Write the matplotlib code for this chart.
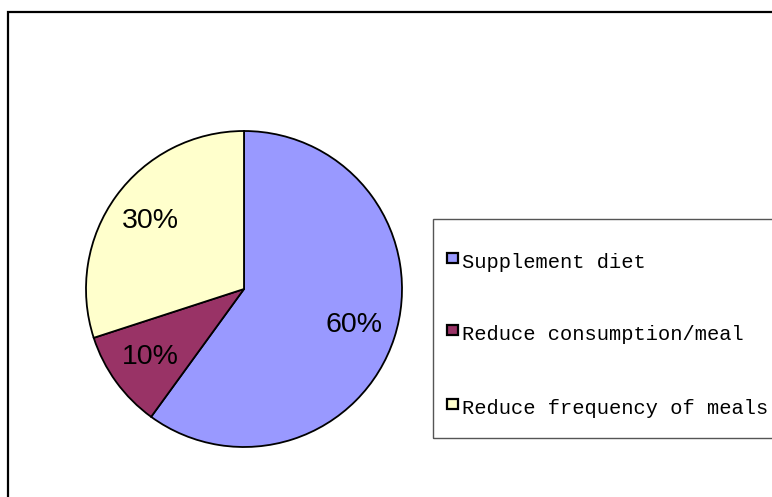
import matplotlib.pyplot as plt
from matplotlib.patches import Rectangle

labels = ['Supplement diet', 'Reduce consumption/meal', 'Reduce frequency of meals']
shares = [60, 10, 30]
colors = ['#9999FF', '#993366', '#FFFFCC']

W, H = 772, 497
fig = plt.figure(figsize=(W / 100, H / 100), dpi=100)

# pie axes: centre (244, 289) px, radius 158 px
cx, cy, r = 244, 289, 158
ax = fig.add_axes([(cx - r) / W, (H - cy - r) / H, 2 * r / W, 2 * r / H])
wedges, texts = ax.pie(
    shares, colors=colors, startangle=90, counterclock=False,
    labels=[f'{v}%' for v in shares], labeldistance=0.735,
    wedgeprops=dict(edgecolor='black', linewidth=1.3),
    textprops=dict(fontsize=20.5, family='Liberation Sans', ha='center', va='center'),
)
ax.set_xlim(-1, 1)
ax.set_ylim(-1, 1)
ax.set_aspect('equal')
ax.axis('off')

# outer chart frame (runs off the right and bottom edges)
fig.patches.append(Rectangle((8 / W, -0.2), 1.2, (H - 12) / H + 0.2,
                             transform=fig.transFigure, fill=False,
                             edgecolor='black', linewidth=1.6))

# legend box
lx, ltop, lbot = 433, 219, 438
fig.patches.append(Rectangle((lx / W, (H - lbot) / H), 1.0, (lbot - ltop) / H,
                             transform=fig.transFigure, fill=False,
                             edgecolor='#555555', linewidth=1.0))
row_y = [262, 334, 408]
for lab, col, y in zip(labels, colors, row_y):
    fig.patches.append(Rectangle((447 / W, (H - y - 1) / H), 10.5 / W, 10.5 / H,
                                 transform=fig.transFigure, facecolor=col,
                                 edgecolor='black', linewidth=1.6))
    fig.text(462 / W, (H - y) / H, lab, fontsize=14.7, family='Liberation Mono',
             ha='left', va='center')

fig.savefig('out.png', dpi=100)
